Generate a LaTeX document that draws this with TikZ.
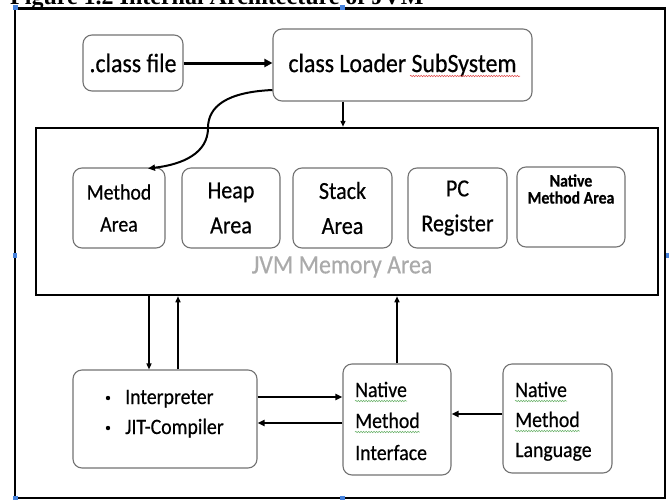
\documentclass[tikz,border=0pt]{standalone}
\usepackage{fontspec}
\setmainfont{Carlito}[FakeStretch=0.9, FakeBold=0.5]
\newfontfamily\capfont{Liberation Serif}
\usetikzlibrary{arrows.meta,decorations.pathmorphing}
\definecolor{boxgray}{RGB}{115,115,115}
\definecolor{jvmgray}{RGB}{170,170,170}
\definecolor{handleblue}{RGB}{70,130,220}
\definecolor{squigred}{RGB}{225,70,70}
\definecolor{squiggreen}{RGB}{100,175,100}
\tikzset{
  rbox/.style={draw=boxgray, line width=1.1pt, rounded corners=9pt, fill=white, inner sep=0pt},
  memtext/.style={align=center, font=\fontsize{24.5}{35}\selectfont},
  txt/.style={anchor=base west, inner sep=0pt, font=\fontsize{22}{22}\selectfont},
  thinarr/.style={-{Triangle[length=6pt,width=5pt]}, line width=1.4pt},
  midarr/.style={-{Triangle[length=7pt,width=6pt]}, line width=2.4pt},
  thickarr/.style={-{Triangle[length=8pt,width=8pt]}, line width=3pt},
  squig/.style={decorate, decoration={snake, amplitude=0.7pt, segment length=2.6pt}, line width=0.5pt},
  handle/.style={fill=handleblue}
}
\begin{document}
\begin{tikzpicture}[x=1pt,y=-1pt]
\useasboundingbox (0,0) rectangle (669,501);
\clip (0,0) rectangle (669,501);
\fill[white] (0,0) rectangle (669,501);

% caption, mostly cut off at the top
\node[anchor=base west, inner sep=0pt, font=\capfont\bfseries\fontsize{24}{24}\selectfont] (caption) at (10,4) {Figure 1.2 Internal Architecture of JVM};

% outer frame
\draw[line width=2.5pt] (15,8.5) rectangle (665,498);

% top boxes
\node[rbox, minimum width=100, minimum height=56, font=\fontsize{26.5}{28}\selectfont] (classfile) at (133,63) {.class file};
\node[rbox, minimum width=259, minimum height=72, font=\fontsize{26.5}{28}\selectfont] (loader) at (402.5,65) {class Loader SubSystem};
\draw[squig, squigred] (410,76) -- (520,76);

% JVM memory area
\node[draw, line width=2.5pt, minimum width=622, minimum height=167, inner sep=0pt] (jvm) at (347,211.5) {};
\node[rbox, minimum width=92, minimum height=80, memtext, font=\fontsize{22}{32}\selectfont] (method) at (119,208) {Method\\Area};
\node[rbox, minimum width=98, minimum height=80, memtext] (heap) at (231,208) {Heap\\Area};
\node[rbox, minimum width=99, minimum height=80, memtext] (stack) at (342.5,208) {Stack\\Area};
\node[rbox, minimum width=99, minimum height=80, memtext] (pc) at (457.5,208) {PC\\Register};
\node[rbox, minimum width=108, minimum height=80] (nma) at (571,207) {};
\node[align=center, inner sep=0pt, font=\bfseries\fontsize{17.5}{17}\selectfont] (nmatext) at (571,189) {Native\\Method Area};
\node[text=jvmgray, inner sep=0pt, font=\fontsize{26.5}{26}\selectfont] (jvmlabel) at (342,267) {JVM Memory Area};

% bottom boxes
\node[rbox, minimum width=184, minimum height=98] (interp) at (165,419) {};
\fill (108,398) circle (2.2);
\fill (108,428) circle (2.2);
\node[txt] (interp1) at (125,404) {Interpreter};
\node[txt] (interp2) at (125,434) {JIT-Compiler};

\node[rbox, minimum width=108, minimum height=111] (nmi) at (397,419.5) {};
\node[txt] (nmi1) at (355,397) {Native};
\node[txt] (nmi2) at (355,428) {Method};
\node[txt] (nmi3) at (355,460) {Interface};

\node[rbox, minimum width=109, minimum height=109] (nml) at (557.5,418.5) {};
\node[txt] (nml1) at (515,397) {Native};
\node[txt] (nml2) at (515,427) {Method};
\node[txt] (nml3) at (515,457) {Language};

\foreach \n in {nmi1,nmi2,nml1,nml2}
  \draw[squig, squiggreen] ([yshift=-4pt]\n.base west) -- ([yshift=-4pt]\n.base east);

% connectors
\draw[thickarr] (classfile.east) -- (classfile.east -| loader.west);
\coordinate (ld) at ([xshift=-59.5pt]loader.south);
\draw[thinarr] (ld) -- (ld |- jvm.north);

\coordinate (cs) at ([yshift=-25pt]loader.west);
\coordinate (cm) at (208,128);
\coordinate (ce) at ([xshift=29pt,yshift=-1pt]method.north);
\draw[line width=2pt, -{Triangle[length=7pt,width=6pt]}] (cs) .. controls +(-45,2) and +(0,-22) .. (cm) .. controls +(0,25) and +(35,-4) .. (ce);

\coordinate (d1) at ([xshift=-16pt]interp.north);
\coordinate (u1) at ([xshift=13pt]interp.north);
\draw[thinarr] (d1 |- jvm.south) -- (d1);
\draw[thinarr] (u1) -- (u1 |- jvm.south);
\draw[thinarr] (nmi.north) -- (nmi.north |- jvm.south);

\coordinate (r1) at ([yshift=22pt]interp.east);
\draw[midarr] (r1) -- (r1 -| nmi.west);
\coordinate (l1) at ([yshift=-3.5pt]nmi.west);
\draw[midarr] (l1) -- (l1 -| interp.east);
\coordinate (q1) at ([yshift=4.5pt]nml.west);
\draw[midarr] (q1) -- (q1 -| nmi.east);

% selection handles
\fill[handle] (13,5) rectangle (17.5,9.5);
\fill[handle] (340,5) rectangle (344.5,9.5);
\fill[handle] (13,253) rectangle (17,258);
\fill[handle] (666,253) rectangle (669,258);
\fill[handle] (13,496) rectangle (17.5,500);
\fill[handle] (340,496) rectangle (344.5,500);
\end{tikzpicture}
\end{document}
